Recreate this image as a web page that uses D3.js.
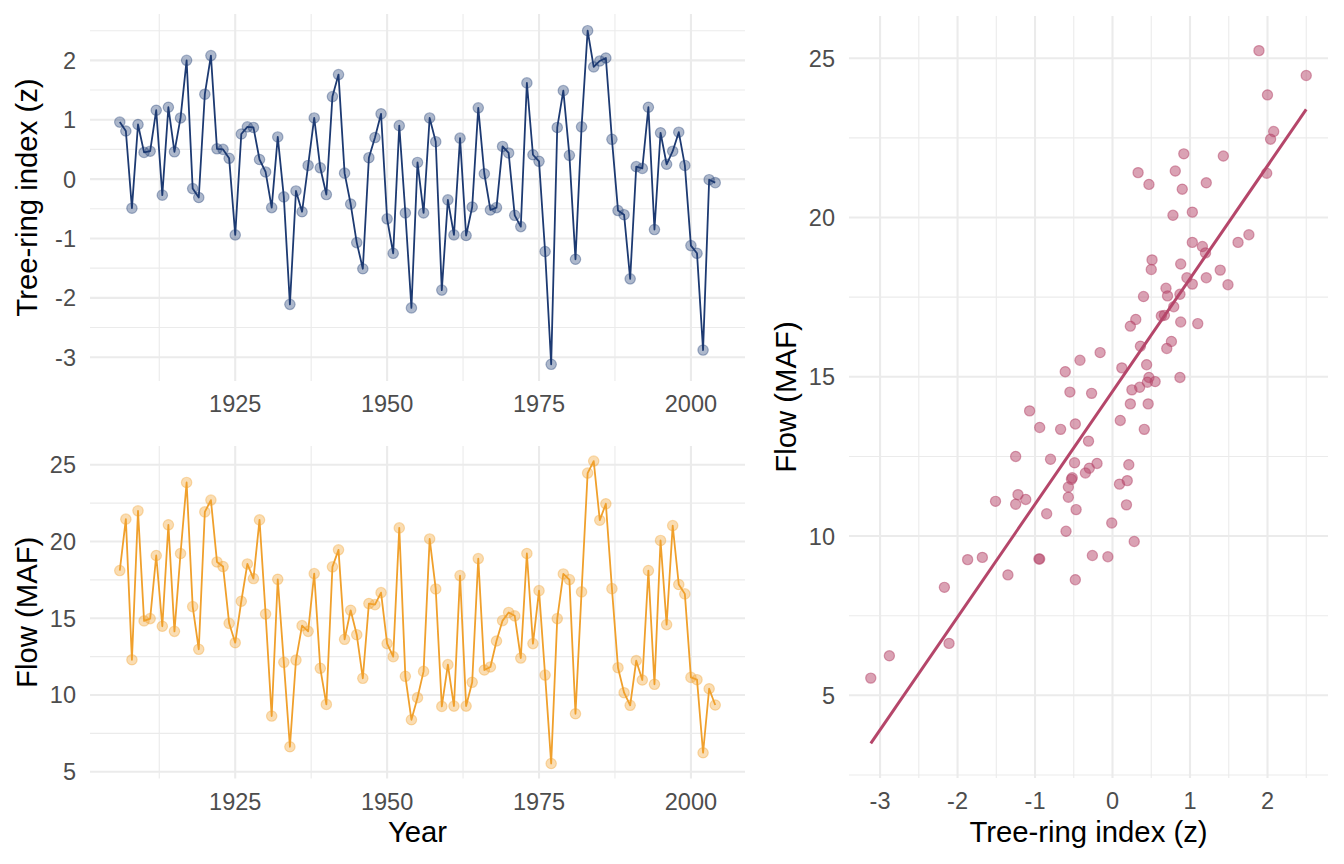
<!DOCTYPE html>
<html>
<head>
<meta charset="utf-8">
<script src="https://cdn.jsdelivr.net/npm/d3@7"></script>
<style>
    body { margin: 0; background: #fff; }
    text { font-family: "Liberation Sans", Arial, Helvetica, sans-serif; }
</style>
</head>
<body>
<div id="chart"></div>
<script>
const years = [1906, 1907, 1908, 1909, 1910, 1911, 1912, 1913, 1914, 1915,
    1916, 1917, 1918, 1919, 1920, 1921, 1922, 1923, 1924, 1925,
    1926, 1927, 1928, 1929, 1930, 1931, 1932, 1933, 1934, 1935,
    1936, 1937, 1938, 1939, 1940, 1941, 1942, 1943, 1944, 1945,
    1946, 1947, 1948, 1949, 1950, 1951, 1952, 1953, 1954, 1955,
    1956, 1957, 1958, 1959, 1960, 1961, 1962, 1963, 1964, 1965,
    1966, 1967, 1968, 1969, 1970, 1971, 1972, 1973, 1974, 1975,
    1976, 1977, 1978, 1979, 1980, 1981, 1982, 1983, 1984, 1985,
    1986, 1987, 1988, 1989, 1990, 1991, 1992, 1993, 1994, 1995,
    1996, 1997, 1998, 1999, 2000, 2001, 2002, 2003, 2004];

// tree-ring index (z), one per year
const treeRing = [0.96, 0.81, -0.49, 0.92, 0.45, 0.47, 1.16, -0.27, 1.21, 0.46,
    1.03, 2.00, -0.16, -0.31, 1.43, 2.08, 0.51, 0.50, 0.35, -0.94,
    0.76, 0.88, 0.87, 0.33, 0.12, -0.48, 0.71, -0.30, -2.11, -0.20,
    -0.55, 0.23, 1.03, 0.19, -0.26, 1.39, 1.76, 0.10, -0.42, -1.07,
    -1.51, 0.36, 0.70, 1.10, -0.67, -1.25, 0.90, -0.57, -2.17, 0.28,
    -0.57, 1.03, 0.63, -1.87, -0.35, -0.94, 0.69, -0.95, -0.47, 1.20,
    0.09, -0.52, -0.48, 0.55, 0.44, -0.61, -0.80, 1.62, 0.41, 0.30,
    -1.22, -3.12, 0.87, 1.49, 0.40, -1.35, 0.88, 2.50, 1.89, 1.99,
    2.04, 0.67, -0.53, -0.60, -1.68, 0.21, 0.18, 1.21, -0.85, 0.78,
    0.25, 0.47, 0.79, 0.23, -1.12, -1.25, -2.88, -0.01, -0.06];

// flow (MAF), one per year
const flow = [18.11, 21.46, 12.30, 22.00, 14.83, 14.98, 19.09, 14.48, 21.09, 14.15,
    19.22, 23.85, 15.76, 12.98, 21.93, 22.70, 18.67, 18.37, 14.67, 13.41,
    16.11, 18.54, 17.59, 21.41, 15.28, 8.63, 17.54, 12.13, 6.63, 12.28,
    14.52, 14.15, 17.91, 11.74, 9.39, 18.35, 19.46, 13.63, 15.52, 13.93,
    11.09, 15.96, 15.89, 16.67, 13.35, 12.50, 20.89, 11.22, 8.39, 9.83,
    11.54, 20.17, 16.91, 9.26, 11.98, 9.28, 17.78, 9.28, 10.83, 18.89,
    11.63, 11.83, 13.52, 14.85, 15.38, 15.16, 12.41, 19.22, 13.35, 16.80,
    11.30, 5.54, 14.98, 17.89, 17.52, 8.78, 16.72, 24.46, 25.24, 21.39,
    22.46, 16.93, 11.78, 10.15, 9.33, 12.24, 10.98, 18.11, 10.70, 20.07,
    14.59, 21.04, 17.20, 16.59, 11.15, 11.00, 6.24, 10.41, 9.35];

const yearTicks = [1925, 1950, 1975, 2000];
const indexTicks = [-3, -2, -1, 0, 1, 2];
const flowTicks = [5, 10, 15, 20, 25];

const width = 1344, height = 864;
const tsPanel = { left: 90, right: 745 };
const topPanel = { top: 14, bottom: 381 };
const botPanel = { top: 446, bottom: 778.6 };
const scPanel = { left: 849, right: 1328, top: 16, bottom: 778 };

const navy = "#1d3a72", orange = "#f0a02c", rose = "#b5466a";
const tickSize = 23.5, titleSize = 29.3;

// ggplot-style 5% padding
function expand(ext) {
    const d = (ext[1] - ext[0]) * 0.05;
    return [ext[0] - d, ext[1] + d];
}

function minorBreaks(major, domain) {
    const step = major[1] - major[0];
    const out = [];
    for (let i = -1; i < major.length; i++) {
        const m = major[0] + (i + 0.5) * step;
        if (m >= domain[0] && m <= domain[1]) out.push(m);
    }
    return out;
}

const svg = d3.select("#chart")
    .append("svg")
    .attr("width", width)
    .attr("height", height);

svg.append("rect").attr("width", width).attr("height", height).attr("fill", "#fff");

function drawPanel(x, y, xMajor, yMajor, box) {
    const g = svg.append("g");
    const xd = x.domain(), yd = y.domain();
    const xMinor = minorBreaks(xMajor, xd), yMinor = minorBreaks(yMajor, yd);

    g.selectAll(".ymin").data(yMinor).enter().append("line")
        .attr("x1", box.left).attr("x2", box.right)
        .attr("y1", d => y(d)).attr("y2", d => y(d))
        .attr("stroke", "#ebebeb").attr("stroke-width", 1.1);
    g.selectAll(".xmin").data(xMinor).enter().append("line")
        .attr("y1", box.top).attr("y2", box.bottom)
        .attr("x1", d => x(d)).attr("x2", d => x(d))
        .attr("stroke", "#ebebeb").attr("stroke-width", 1.1);
    g.selectAll(".ymaj").data(yMajor).enter().append("line")
        .attr("x1", box.left).attr("x2", box.right)
        .attr("y1", d => y(d)).attr("y2", d => y(d))
        .attr("stroke", "#ebebeb").attr("stroke-width", 2.1);
    g.selectAll(".xmaj").data(xMajor).enter().append("line")
        .attr("y1", box.top).attr("y2", box.bottom)
        .attr("x1", d => x(d)).attr("x2", d => x(d))
        .attr("stroke", "#ebebeb").attr("stroke-width", 2.1);

    g.selectAll(".xlab").data(xMajor).enter().append("text")
        .attr("x", d => x(d))
        .attr("y", box.bottom + 31)
        .attr("text-anchor", "middle")
        .attr("font-size", tickSize)
        .attr("fill", "#4d4d4d")
        .text(d => d);
    g.selectAll(".ylab").data(yMajor).enter().append("text")
        .attr("x", box.left - 14)
        .attr("y", d => y(d))
        .attr("dy", "0.36em")
        .attr("text-anchor", "end")
        .attr("font-size", tickSize)
        .attr("fill", "#4d4d4d")
        .text(d => d);
    return g;
}

function yTitle(label, xPos, yCenter) {
    svg.append("text")
        .attr("transform", `translate(${xPos},${yCenter}) rotate(-90)`)
        .attr("text-anchor", "middle")
        .attr("font-size", titleSize)
        .attr("fill", "#000")
        .text(label);
}

function xTitle(label, xCenter, yPos) {
    svg.append("text")
        .attr("x", xCenter)
        .attr("y", yPos)
        .attr("text-anchor", "middle")
        .attr("font-size", titleSize)
        .attr("fill", "#000")
        .text(label);
}

function drawSeries(g, x, y, xs, ys, color) {
    const pts = xs.map((d, i) => [d, ys[i]]);
    g.selectAll(".pt").data(pts).enter().append("circle")
        .attr("cx", d => x(d[0]))
        .attr("cy", d => y(d[1]))
        .attr("r", 5.2)
        .attr("fill", color).attr("fill-opacity", 0.36)
        .attr("stroke", color).attr("stroke-opacity", 0.36).attr("stroke-width", 1.2);
    g.append("path")
        .datum(pts)
        .attr("fill", "none")
        .attr("stroke", color)
        .attr("stroke-width", 1.8)
        .attr("stroke-linejoin", "round")
        .attr("d", d3.line().x(d => x(d[0])).y(d => y(d[1])));
}

// shared year axis
const xYear = d3.scaleLinear().domain(expand(d3.extent(years))).range([tsPanel.left, tsPanel.right]);

// top: tree-ring index
const yIndex = d3.scaleLinear().domain(expand(d3.extent(treeRing))).range([topPanel.bottom, topPanel.top]);
const gTop = drawPanel(xYear, yIndex, yearTicks, indexTicks,
    { left: tsPanel.left, right: tsPanel.right, top: topPanel.top, bottom: topPanel.bottom });
drawSeries(gTop, xYear, yIndex, years, treeRing, navy);
yTitle("Tree-ring index (z)", 37, (topPanel.top + topPanel.bottom) / 2);

// bottom: flow
const yFlow = d3.scaleLinear().domain(expand(d3.extent(flow))).range([botPanel.bottom, botPanel.top]);
const gBot = drawPanel(xYear, yFlow, yearTicks, flowTicks,
    { left: tsPanel.left, right: tsPanel.right, top: botPanel.top, bottom: botPanel.bottom });
drawSeries(gBot, xYear, yFlow, years, flow, orange);
yTitle("Flow (MAF)", 37, (botPanel.top + botPanel.bottom) / 2);
xTitle("Year", (tsPanel.left + tsPanel.right) / 2, 842);

// scatter with least-squares fit
const mx = d3.mean(treeRing), my = d3.mean(flow);
const sxy = d3.sum(treeRing, (d, i) => (d - mx) * (flow[i] - my));
const sxx = d3.sum(treeRing, d => (d - mx) * (d - mx));
const slope = sxy / sxx, intercept = my - slope * mx;
const xExt = d3.extent(treeRing);
const fit = xExt.map(v => [v, intercept + slope * v]);

const xSc = d3.scaleLinear().domain(expand(xExt)).range([scPanel.left, scPanel.right]);
const ySc = d3.scaleLinear()
    .domain(expand([Math.min(d3.min(flow), fit[0][1]), Math.max(d3.max(flow), fit[1][1])]))
    .range([scPanel.bottom, scPanel.top]);
const gSc = drawPanel(xSc, ySc, indexTicks, flowTicks, scPanel);

const pairs = treeRing.map((d, i) => [d, flow[i]]);
gSc.selectAll(".sp").data(pairs).enter().append("circle")
    .attr("cx", d => xSc(d[0]))
    .attr("cy", d => ySc(d[1]))
    .attr("r", 5.1)
    .attr("fill", rose).attr("fill-opacity", 0.5)
    .attr("stroke", rose).attr("stroke-opacity", 0.5).attr("stroke-width", 1.2);

gSc.append("path")
    .datum(fit)
    .attr("fill", "none")
    .attr("stroke", rose)
    .attr("stroke-width", 3)
    .attr("d", d3.line().x(d => xSc(d[0])).y(d => ySc(d[1])));

yTitle("Flow (MAF)", 796, (scPanel.top + scPanel.bottom) / 2);
xTitle("Tree-ring index (z)", (scPanel.left + scPanel.right) / 2, 842);
</script>
</body>
</html>
